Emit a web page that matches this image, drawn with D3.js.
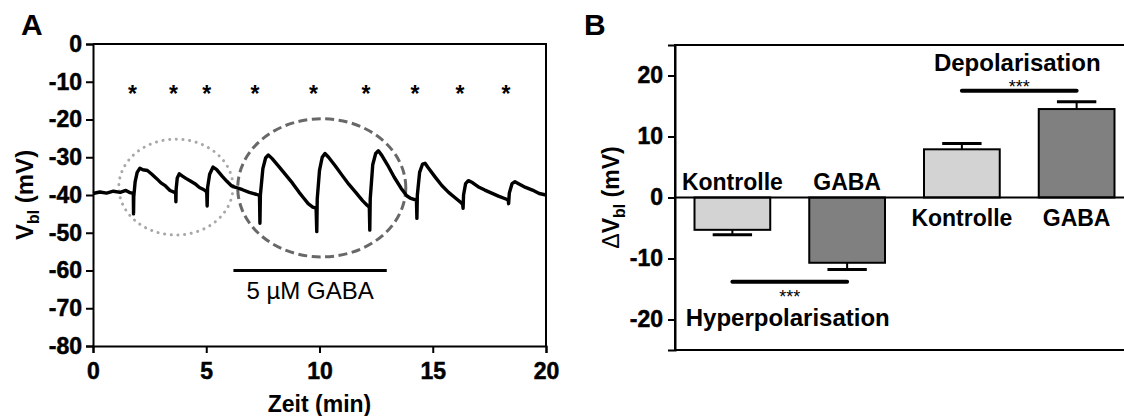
<!DOCTYPE html>
<html>
<head>
<meta charset="utf-8">
<script src="https://cdn.jsdelivr.net/npm/d3@7"></script>
<style>
  body { margin: 0; background: #fff; }
  svg { display: block; font-family: "Liberation Sans", Arial, sans-serif; }
  .tick text { font-weight: bold; font-family: "Liberation Sans", Arial, sans-serif; }
</style>
</head>
<body>
<div id="chart"></div>
<script>
/////////////////////////////////////////////////////
///////////////////// Data //////////////////////////
/////////////////////////////////////////////////////

// Panel A: membrane potential trace (time in min, potential in mV)
const traceTime = [
  0.0, 0.3, 0.6, 0.9, 1.2, 1.45, 1.6, 1.76, 1.78, 1.79, 1.8, 1.86, 1.95, 2.07, 2.2, 2.4, 2.6, 2.8, 3.0, 3.2, 3.4, 3.6,
  3.65, 3.66, 3.67, 3.72, 3.81, 3.95, 4.1, 4.3, 4.5, 4.7, 4.9, 5.02,
  5.04, 5.06, 5.15, 5.3, 5.45, 5.7, 5.9, 6.1, 6.3, 6.6, 6.9, 7.2, 7.35,
  7.37, 7.39, 7.5, 7.62, 7.74, 7.9, 8.2, 8.5, 8.8, 9.1, 9.3, 9.5, 9.7, 9.85,
  9.88, 9.9, 10.0, 10.12, 10.24, 10.4, 10.7, 11.0, 11.3, 11.6, 11.9, 12.1, 12.2,
  12.22, 12.24, 12.35, 12.48, 12.6, 12.75, 13.0, 13.3, 13.6, 13.85, 14.0, 14.2, 14.28,
  14.3, 14.32, 14.42, 14.55, 14.66, 14.8, 15.1, 15.4, 15.7, 16.0, 16.25, 16.32,
  16.34, 16.36, 16.45, 16.57, 16.75, 17.0, 17.3, 17.6, 17.9, 18.2, 18.33,
  18.35, 18.38, 18.5, 18.63, 18.85, 19.1, 19.4, 19.7, 20.0
];
const traceMv = [
  -39.6, -39.2, -39.5, -39.0, -39.3, -38.8, -39.3, -39.6, -39.6, -45.0, -40.5, -36.5, -34.0, -32.9, -33.3, -33.5, -34.5, -35.6, -36.8, -37.6, -38.8, -39.3,
  -39.6, -41.8, -38.5, -35.5, -34.4, -35.0, -35.6, -36.3, -37.0, -38.0, -38.6, -39.2,
  -42.9, -38.0, -34.5, -32.6, -33.2, -35.0, -36.3, -37.5, -38.0, -38.6, -39.3, -39.8, -40.1,
  -47.5, -40.0, -33.0, -30.2, -29.4, -30.3, -32.4, -34.6, -36.8, -39.3, -40.8, -42.3, -43.2, -43.5,
  -49.7, -41.0, -33.5, -30.0, -29.0, -30.0, -32.3, -34.8, -37.2, -39.3, -41.5, -42.7, -43.2,
  -49.3, -41.0, -32.0, -29.0, -28.3, -29.5, -32.0, -35.3, -38.2, -40.2, -40.8, -41.2, -41.3,
  -46.2, -40.0, -34.0, -31.8, -31.6, -32.8, -35.2, -37.5, -39.3, -40.8, -42.0, -42.5,
  -43.5, -40.0, -37.0, -36.2, -36.7, -37.8, -38.7, -39.5, -40.3, -41.0, -41.3,
  -42.3, -39.5, -37.0, -36.5, -37.2, -38.0, -38.7, -39.6, -40.0
];

// Significant events (asterisks) above the trace
const starTimes = [1.74, 3.55, 5.02, 7.15, 9.73, 12.05, 14.22, 16.2, 18.23];
const starLevel = -12;

// GABA application window
const gabaStart = 6.2;
const gabaEnd   = 12.97;
const gabaLevel = -60;

// Highlight ellipses: [centre time, centre mV, radius min, radius mV]
const ctrlEllipse = [3.66, -37.9, 2.52, 12.7];
const gabaEllipse = [10.1, -38.1, 3.71, 18.3];

const xTicksA = [0, 5, 10, 15, 20];
const yTicksA = [0, -10, -20, -30, -40, -50, -60, -70, -80];

// Panel B: mean change of the membrane potential
const barKeys   = ["hypK", "hypG", "depK", "depG"];
const barLabels = ["Kontrolle", "GABA", "Kontrolle", "GABA"];
const barMeans  = [-5.3, -10.7, 7.9, 14.5];
const barErrors = [0.8, 1.1, 0.95, 1.2];
const barFills  = ["#d3d3d3", "#808080", "#d3d3d3", "#808080"];
const yTicksB   = [20, 10, 0, -10, -20];

// Significance brackets
const hyperSig = { from: "hypK", to: "hypG", level: -13.8, label: "***", group: "Hyperpolarisation", groupLevel: -21.1 };
const depolSig = { from: "depK", to: "depG", level: 17.5, label: "***", group: "Depolarisation", groupLevel: 20.75 };

/////////////////////////////////////////////////////
///////////////////// Setup /////////////////////////
/////////////////////////////////////////////////////

const width  = 1124;
const height = 416;
const fontSize = 23;
const plainNumber = d => String(d);   // keep the hyphen-minus of the original

const svg = d3.select("#chart")
  .append("svg")
  .attr("width", width)
  .attr("height", height);

function styleAxis(ax) {
  ax.attr("font-size", fontSize).attr("font-weight", "bold").attr("font-family", "'Liberation Sans', Arial, sans-serif");
  ax.select(".domain").attr("stroke-width", 2);
  ax.selectAll(".tick line").attr("stroke-width", 2);
  // a thin outline makes the labels as heavy as in the original
  ax.selectAll(".tick text").attr("fill", "#000").attr("stroke", "#000").attr("stroke-width", 0.5);
}

/////////////////////////////////////////////////////
//// Panel A (trace) ////////////////////////////////
/////////////////////////////////////////////////////

const xA = d3.scaleLinear().domain([0, 20]).range([93, 546]);
const yA = d3.scaleLinear().domain([-80, 0]).range([346, 44]);

const gA = svg.append("g");

// Panel letter
svg.append("text")
  .attr("x", 21).attr("y", 35)
  .style("font-size", "30px").style("font-weight", "bold")
  .text("A");

// highlight ellipses (behind the trace)
gA.append("ellipse")
  .attr("cx", xA(ctrlEllipse[0])).attr("cy", yA(ctrlEllipse[1]))
  .attr("rx", xA(ctrlEllipse[2]) - xA(0)).attr("ry", yA(0) - yA(ctrlEllipse[3]))
  .attr("fill", "none")
  .attr("stroke", "#a8a8a8")
  .attr("stroke-width", 3)
  .attr("stroke-linecap", "round")
  .attr("stroke-dasharray", "0.1,6.6");

gA.append("ellipse")
  .attr("cx", xA(gabaEllipse[0])).attr("cy", yA(gabaEllipse[1]))
  .attr("rx", xA(gabaEllipse[2]) - xA(0)).attr("ry", yA(0) - yA(gabaEllipse[3]))
  .attr("fill", "none")
  .attr("stroke", "#686868")
  .attr("stroke-width", 3)
  .attr("stroke-dasharray", "9,4.5");

// the trace itself (thick, the original recording is noisy)
const trace = d3.zip(traceTime, traceMv);
gA.append("path")
  .datum(trace)
  .attr("fill", "none")
  .attr("stroke", "#000")
  .attr("stroke-width", 3.4)
  .attr("stroke-linejoin", "round")
  .attr("d", d3.line().x(d => xA(d[0])).y(d => yA(d[1])));

// asterisks
gA.append("g").selectAll("text")
  .data(starTimes)
  .enter().append("text")
  .attr("x", d => xA(d))
  .attr("y", yA(starLevel) + 13)
  .attr("text-anchor", "middle")
  .style("font-size", "23px")
  .style("font-weight", "bold")
  .text("*");

// GABA bar + label
gA.append("line")
  .attr("x1", xA(gabaStart)).attr("x2", xA(gabaEnd))
  .attr("y1", yA(gabaLevel)).attr("y2", yA(gabaLevel))
  .attr("stroke", "#000").attr("stroke-width", 3);

gA.append("text")
  .attr("x", (xA(gabaStart) + xA(gabaEnd)) / 2)
  .attr("y", yA(gabaLevel) + 28)
  .attr("text-anchor", "middle")
  .style("font-size", "24px")
  .text("5 µM GABA");

// frame (top + right)
gA.append("path")
  .attr("d", `M${xA(0)},${yA(0)}H${xA(20)}V${yA(-80)}`)
  .attr("fill", "none").attr("stroke", "#000").attr("stroke-width", 2);

// axes
const xAxisA = gA.append("g")
  .attr("transform", `translate(0,${yA(-80)})`)
  .call(d3.axisBottom(xA).tickValues(xTicksA).tickFormat(plainNumber).tickSize(7).tickPadding(10));

const yAxisA = gA.append("g")
  .attr("transform", `translate(${xA(0)},0)`)
  .call(d3.axisLeft(yA).tickValues(yTicksA).tickFormat(plainNumber).tickSize(7).tickPadding(4));

styleAxis(xAxisA);
styleAxis(yAxisA);

// axis titles
svg.append("text")
  .attr("x", (xA(0) + xA(20)) / 2)
  .attr("y", 412)
  .attr("text-anchor", "middle")
  .style("font-size", fontSize + "px").style("font-weight", "bold")
  .text("Zeit (min)");

const yTitleA = svg.append("text")
  .attr("transform", `translate(33,${(yA(0) + yA(-80)) / 2}) rotate(-90)`)
  .attr("text-anchor", "middle")
  .style("font-size", "24px").style("font-weight", "bold");
yTitleA.append("tspan").text("V");
yTitleA.append("tspan").attr("dy", 6).style("font-size", "16px").text("bl");
yTitleA.append("tspan").attr("dy", -6).text(" (mV)");

/////////////////////////////////////////////////////
//// Panel B (bars) /////////////////////////////////
/////////////////////////////////////////////////////

const xB = d3.scaleBand().domain(barKeys).range([675, 1134]).paddingInner(0.34).paddingOuter(0.17);
const yB = d3.scaleLinear().domain([-25, 25]).range([350, 45]);

const gB = svg.append("g");

svg.append("text")
  .attr("x", 584).attr("y", 35)
  .style("font-size", "30px").style("font-weight", "bold")
  .text("B");

const bars = barKeys.map((k, i) => ({ key: k, label: barLabels[i], mean: barMeans[i], err: barErrors[i], fill: barFills[i] }));

// error bars (drawn first so the bar outline covers the stem start)
const errG = gB.append("g").selectAll("g")
  .data(bars)
  .enter().append("g");

errG.append("line")
  .attr("x1", d => xB(d.key) + xB.bandwidth() / 2)
  .attr("x2", d => xB(d.key) + xB.bandwidth() / 2)
  .attr("y1", d => yB(d.mean))
  .attr("y2", d => yB(d.mean + Math.sign(d.mean) * d.err))
  .attr("stroke", "#000").attr("stroke-width", 2);

errG.append("line")
  .attr("x1", d => xB(d.key) + xB.bandwidth() * 0.24)
  .attr("x2", d => xB(d.key) + xB.bandwidth() * 0.76)
  .attr("y1", d => yB(d.mean + Math.sign(d.mean) * d.err))
  .attr("y2", d => yB(d.mean + Math.sign(d.mean) * d.err))
  .attr("stroke", "#000").attr("stroke-width", 3);

gB.append("g").selectAll("rect")
  .data(bars)
  .enter().append("rect")
  .attr("x", d => xB(d.key))
  .attr("width", xB.bandwidth())
  .attr("y", d => yB(Math.max(0, d.mean)))
  .attr("height", d => Math.abs(yB(d.mean) - yB(0)))
  .attr("fill", d => d.fill)
  .attr("stroke", "#000")
  .attr("stroke-width", 2);

// frame + zero line
gB.append("path")
  .attr("d", `M${xB.range()[1]},${yB(25)}H${xB.range()[0]}V${yB(-25)}H${xB.range()[1]}Z`)
  .attr("fill", "none").attr("stroke", "#000").attr("stroke-width", 2);

gB.append("line")
  .attr("x1", xB.range()[0]).attr("x2", xB.range()[1])
  .attr("y1", yB(0)).attr("y2", yB(0))
  .attr("stroke", "#000").attr("stroke-width", 2);

const yAxisB = gB.append("g")
  .attr("transform", `translate(${xB.range()[0]},0)`)
  .call(d3.axisLeft(yB).tickValues(yTicksB).tickFormat(plainNumber).tickSize(7).tickPadding(5));
styleAxis(yAxisB);

// category labels: above zero for negative bars, below zero for positive
gB.append("g").selectAll("text")
  .data(bars)
  .enter().append("text")
  .attr("x", d => xB(d.key) + xB.bandwidth() / 2)
  .attr("y", d => d.mean < 0 ? yB(0) - 8 : yB(0) + 28)
  .attr("text-anchor", "middle")
  .style("font-size", fontSize + "px").style("font-weight", "bold")
  .text(d => d.label);

// significance brackets
[hyperSig, depolSig].forEach(s => {
  const x1 = xB(s.from) + xB.bandwidth() / 2;
  const x2 = xB(s.to) + xB.bandwidth() / 2;
  gB.append("line")
    .attr("x1", x1).attr("x2", x2)
    .attr("y1", yB(s.level)).attr("y2", yB(s.level))
    .attr("stroke", "#000").attr("stroke-width", 4).attr("stroke-linecap", "round");
  gB.append("text")
    .attr("x", (x1 + x2) / 2)
    .attr("y", s.level < 0 ? yB(s.level) + 21 : yB(s.level) + 2)
    .attr("text-anchor", "middle")
    .style("font-size", "18px")
    .text(s.label);
  gB.append("text")
    .attr("x", (x1 + x2) / 2 - 2)
    .attr("y", yB(s.groupLevel))
    .attr("text-anchor", "middle")
    .style("font-size", "24px").style("font-weight", "bold")
    .text(s.group);
});

const yTitleB = svg.append("text")
  .attr("transform", `translate(619,${yB(0)}) rotate(-90)`)
  .attr("text-anchor", "middle")
  .style("font-size", fontSize + "px").style("font-weight", "bold");
yTitleB.append("tspan").style("font-weight", "normal").text("Δ");
yTitleB.append("tspan").text("V");
yTitleB.append("tspan").attr("dy", 6).style("font-size", "16px").text("bl");
yTitleB.append("tspan").attr("dy", -6).text(" (mV)");
</script>
</body>
</html>
